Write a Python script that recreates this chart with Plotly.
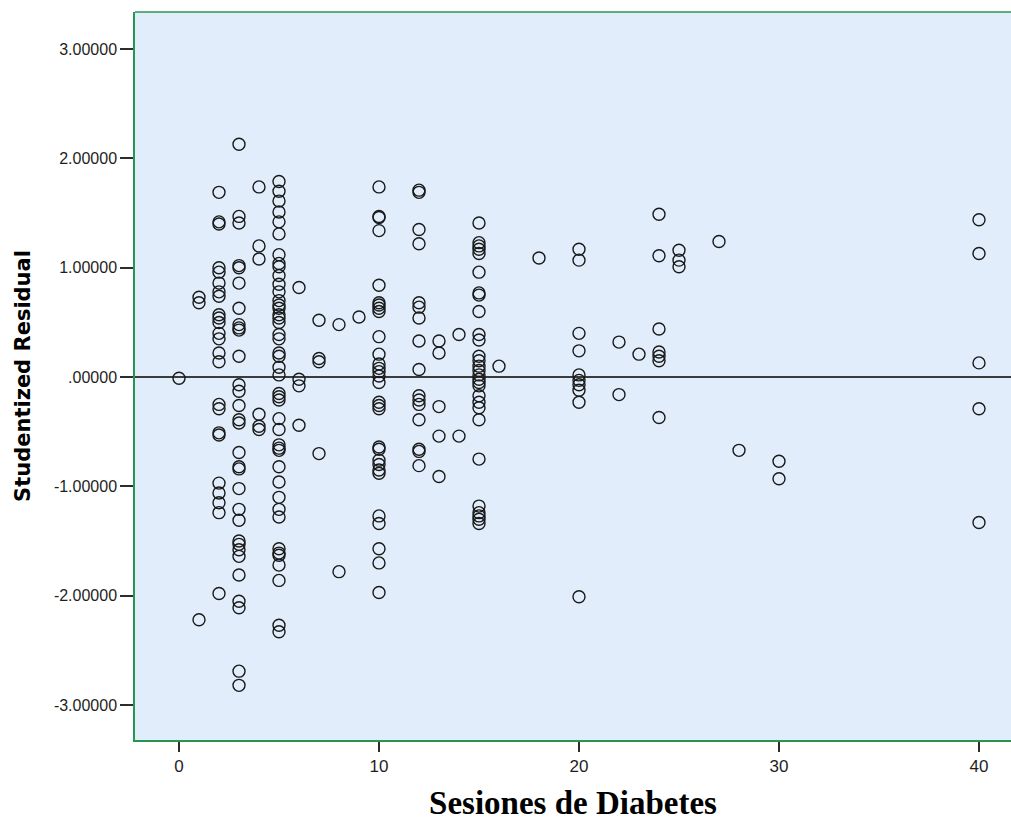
import plotly.graph_objects as go

# Residuals grouped by number of diabetes sessions
r_s0 = [-0.01]
r_s1 = [0.73, 0.68, -2.22]
r_s2 = [1.69, 1.42, 1.40, 1.00, 0.96, 0.86, 0.78, 0.74, 0.57, 0.54, 0.50, 0.40, 0.35, 0.22, 0.14,
        -0.25, -0.29, -0.51, -0.53, -0.97, -1.06, -1.15, -1.24, -1.98]
r_s3 = [2.13, 1.47, 1.41, 1.02, 1.00, 0.86, 0.63, 0.48, 0.45, 0.43, 0.19, -0.07, -0.13, -0.26,
        -0.39, -0.42, -0.69, -0.82, -0.84, -1.02, -1.21, -1.31, -1.50, -1.53, -1.58, -1.64,
        -1.81, -2.05, -2.11, -2.69, -2.82]
r_s4 = [1.74, 1.20, 1.08, -0.34, -0.45, -0.48]
r_s5 = [1.79, 1.70, 1.61, 1.51, 1.42, 1.31, 1.12, 1.04, 1.01, 0.93, 0.85, 0.78, 0.70, 0.66, 0.63,
        0.57, 0.54, 0.50, 0.39, 0.35, 0.22, 0.19, 0.09, 0.02, -0.15, -0.18, -0.21, -0.38, -0.48,
        -0.62, -0.65, -0.67, -0.82, -0.96, -1.10, -1.21, -1.28, -1.57, -1.61, -1.63, -1.72,
        -1.86, -2.27, -2.33]
r_s6 = [0.82, -0.02, -0.08, -0.44]
r_s7 = [0.52, 0.17, 0.14, -0.70]
r_s8 = [0.48, -1.78]
r_s9 = [0.55]
r_s10 = [1.74, 1.47, 1.46, 1.34, 0.84, 0.68, 0.66, 0.63, 0.60, 0.37, 0.21, 0.12, 0.08, 0.05, 0.01,
         -0.05, -0.23, -0.26, -0.29, -0.64, -0.66, -0.76, -0.80, -0.85, -0.88, -1.27, -1.34,
         -1.57, -1.70, -1.97]
r_s12 = [1.71, 1.69, 1.35, 1.22, 0.68, 0.64, 0.54, 0.33, 0.07, -0.17, -0.21, -0.25, -0.39,
         -0.66, -0.68, -0.81]
r_s13 = [0.33, 0.22, -0.27, -0.54, -0.91]
r_s14 = [0.39, -0.54]
r_s15 = [1.41, 1.23, 1.20, 1.17, 1.13, 0.96, 0.77, 0.75, 0.60, 0.39, 0.34, 0.19, 0.15, 0.10, 0.06,
         0.02, -0.02, -0.05, -0.08, -0.17, -0.23, -0.28, -0.39, -0.75, -1.18, -1.24, -1.27,
         -1.30, -1.34]
r_s16 = [0.10]
r_s18 = [1.09]
r_s20 = [1.17, 1.07, 0.40, 0.24, 0.02, -0.03, -0.07, -0.12, -0.23, -2.01]
r_s22 = [0.32, -0.16]
r_s23 = [0.21]
r_s24 = [1.49, 1.11, 0.44, 0.23, 0.19, 0.15, -0.37]
r_s25 = [1.16, 1.07, 1.01]
r_s27 = [1.24]
r_s28 = [-0.67]
r_s30 = [-0.77, -0.93]
r_s40 = [1.44, 1.13, 0.13, -0.29, -1.33]

session_values = [0, 1, 2, 3, 4, 5, 6, 7, 8, 9, 10, 12, 13, 14, 15, 16, 18, 20, 22, 23, 24, 25, 27, 28, 30, 40]
residual_groups = [r_s0, r_s1, r_s2, r_s3, r_s4, r_s5, r_s6, r_s7, r_s8, r_s9, r_s10, r_s12, r_s13,
                   r_s14, r_s15, r_s16, r_s18, r_s20, r_s22, r_s23, r_s24, r_s25, r_s27, r_s28,
                   r_s30, r_s40]

y_tick_vals = [-3, -2, -1, 0, 1, 2, 3]
y_tick_text = ["-3.00000", "-2.00000", "-1.00000", ".00000", "1.00000", "2.00000", "3.00000"]
x_tick_vals = [0, 10, 20, 30, 40]

xs, ys = [], []
for s, grp in zip(session_values, residual_groups):
    xs.extend([s] * len(grp))
    ys.extend(grp)

green = "rgb(40,150,80)"
tick_col = "rgb(45,45,45)"

fig = go.Figure()
fig.add_trace(go.Scatter(
    x=xs, y=ys, mode="markers",
    marker=dict(symbol="circle-open", size=12, color="rgb(25,25,25)", line=dict(width=1.4)),
    showlegend=False, hoverinfo="x+y",
))

fig.update_layout(
    width=1011, height=821,
    margin=dict(l=135, r=0, t=12, b=81),
    paper_bgcolor="white",
    plot_bgcolor="rgb(225,237,250)",
    font=dict(family="Liberation Sans, Arial, sans-serif", color="rgb(30,30,30)"),
    xaxis=dict(
        range=[-2.2, 41.6], tickvals=x_tick_vals, ticks="outside", ticklen=10, tickwidth=2,
        tickcolor=tick_col, tickfont=dict(size=17, family="Liberation Sans, Arial"),
        showgrid=False, zeroline=False, showline=True, linecolor=green, linewidth=1.5,
        title=dict(text="<b>Sesiones de Diabetes</b>", standoff=16,
                   font=dict(family="Liberation Serif, Times New Roman, serif", size=33, color="black")),
    ),
    yaxis=dict(
        range=[-3.32, 3.34], tickvals=y_tick_vals, ticktext=y_tick_text, ticks="outside", ticklen=13,
        tickwidth=2, tickcolor=tick_col, tickfont=dict(size=16),
        showgrid=False, zeroline=True, zerolinecolor="rgb(60,60,60)", zerolinewidth=1.5,
        showline=True, linecolor=green, linewidth=1.5,
        title=dict(text="<b>Studentized Residual</b>", standoff=18,
                   font=dict(family="DejaVu Sans, Verdana, sans-serif", size=21, color="black")),
    ),
    shapes=[dict(type="line", xref="paper", yref="paper", x0=0, x1=1, y0=1, y1=1,
                 line=dict(color=green, width=1.5))],
)

fig.write_html("out.html", config={"displayModeBar": False},
               post_script="document.body.style.margin='0px';document.body.style.overflow='hidden';")
